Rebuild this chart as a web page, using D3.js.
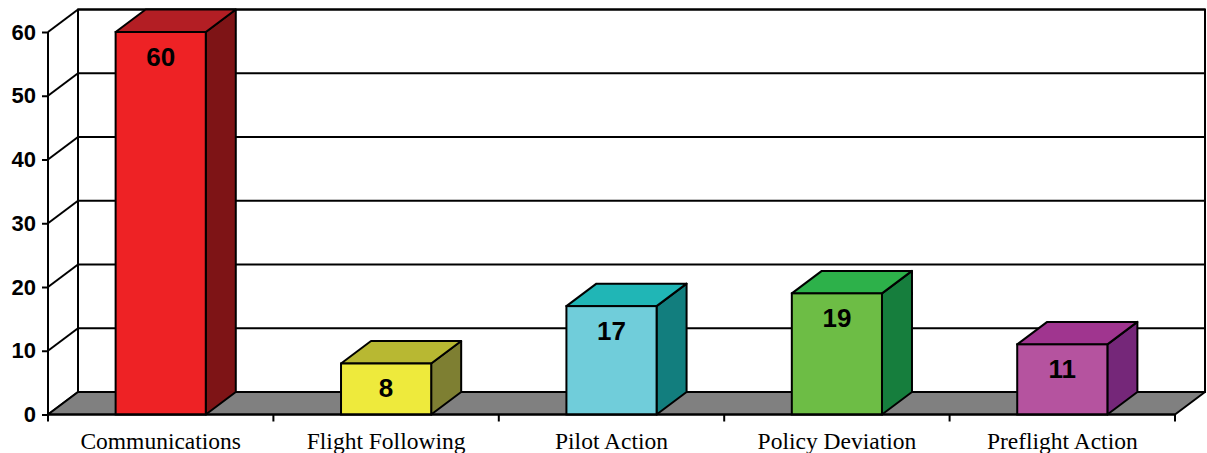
<!DOCTYPE html>
<html>
<head>
<meta charset="utf-8">
<script src="https://cdn.jsdelivr.net/npm/d3@7/dist/d3.min.js"></script>
<style>
  html, body { margin: 0; padding: 0; background: #fff; }
  svg { display: block; }
</style>
</head>
<body>
<svg id="chart" width="1207" height="453"></svg>
<script>
// Incident categories and counts
const categories = ["Communications", "Flight Following", "Pilot Action", "Policy Deviation", "Preflight Action"];
const counts = [60, 8, 17, 19, 11];
const yTicks = [0, 10, 20, 30, 40, 50, 60];

// Face colours per bar: front, side, top
const frontColors = ["#EE2225", "#EEEA3C", "#70CDDA", "#6DBD45", "#B5539F"];
const sideColors  = ["#7E1416", "#7E7F32", "#127E7E", "#167E3D", "#752779"];
const topColors   = ["#B31E24", "#B8B832", "#20B6B6", "#2DB14A", "#A0358F"];

(function () {
const svg = d3.select("#chart");
const plotLeft = 48, plotRight = 1175, plotBottom = 414.5, plotTop = 32;
const dx = 30, dy = -22.5;   // depth offset of the 3D box

const y = d3.scaleLinear().domain([0, 60]).range([plotBottom, plotTop]);
const x = d3.scaleBand().domain(categories).range([plotLeft, plotRight])
  .paddingInner(0.6).paddingOuter(0.3);

const stroke = "#000";
const pts = a => a.map(p => p.join(",")).join(" ");

// Back wall
svg.append("rect")
  .attr("x", plotLeft + dx).attr("y", y(60) + dy)
  .attr("width", plotRight - plotLeft).attr("height", y(0) - y(60))
  .attr("fill", "#fff").attr("stroke", stroke).attr("stroke-width", 2);

// Gridlines on back wall and left wall
const grid = svg.append("g").attr("stroke", stroke).attr("stroke-width", 2);
yTicks.forEach(v => {
  if (v > 0) {
    grid.append("line")
      .attr("x1", plotLeft + dx).attr("x2", plotRight + dx)
      .attr("y1", y(v) + dy).attr("y2", y(v) + dy);
  }
  grid.append("line")
    .attr("x1", plotLeft).attr("y1", y(v))
    .attr("x2", plotLeft + dx).attr("y2", y(v) + dy);
});

// Floor
svg.append("polygon")
  .attr("points", pts([[plotLeft, plotBottom], [plotRight, plotBottom], [plotRight + dx, plotBottom + dy], [plotLeft + dx, plotBottom + dy]]))
  .attr("fill", "#808080").attr("stroke", stroke).attr("stroke-width", 2)
  .attr("stroke-linejoin", "round");

// Bars
const bars = svg.append("g").selectAll("g").data(categories).join("g");
bars.each(function (c, i) {
  const g = d3.select(this);
  const x0 = x(c), x1 = x(c) + x.bandwidth();
  const yt = y(counts[i]), yb = y(0);
  g.append("polygon")
    .attr("points", pts([[x1, yt], [x1 + dx, yt + dy], [x1 + dx, yb + dy], [x1, yb]]))
    .attr("fill", sideColors[i]).attr("stroke", stroke).attr("stroke-width", 2).attr("stroke-linejoin", "round");
  g.append("polygon")
    .attr("points", pts([[x0, yt], [x0 + dx, yt + dy], [x1 + dx, yt + dy], [x1, yt]]))
    .attr("fill", topColors[i]).attr("stroke", stroke).attr("stroke-width", 2).attr("stroke-linejoin", "round");
  g.append("rect")
    .attr("x", x0).attr("y", yt).attr("width", x.bandwidth()).attr("height", yb - yt)
    .attr("fill", frontColors[i]).attr("stroke", stroke).attr("stroke-width", 2);
  g.append("text")
    .attr("x", (x0 + x1) / 2).attr("y", yt + 33.5)
    .attr("text-anchor", "middle")
    .attr("font-family", "Liberation Sans, Arial, sans-serif")
    .attr("font-weight", "bold").attr("font-size", 26)
    .attr("fill", "#000")
    .text(counts[i]);
});

// Y axis
const yAxis = d3.axisLeft(y).tickValues(yTicks).tickSize(6).tickPadding(6);
const yg = svg.append("g").attr("transform", `translate(${plotLeft},0)`).call(yAxis);
yg.select(".domain").attr("stroke", stroke).attr("stroke-width", 2).attr("d", `M0,${plotBottom}V${plotTop}`);
yg.selectAll(".tick line").attr("stroke", stroke).attr("stroke-width", 2);
yg.selectAll(".tick text")
  .attr("font-family", "Liberation Sans, Arial, sans-serif")
  .attr("font-weight", "bold").attr("font-size", 22).attr("fill", "#000");

// X axis with ticks at category boundaries
const xg = svg.append("g").attr("transform", `translate(0,${plotBottom})`);
xg.append("line").attr("x1", plotLeft).attr("x2", plotRight).attr("stroke", stroke).attr("stroke-width", 2);
const step = x.step();
d3.range(categories.length + 1).forEach(k => {
  const xx = plotLeft + k * step;
  xg.append("line").attr("x1", xx).attr("x2", xx).attr("y1", 0).attr("y2", 7)
    .attr("stroke", stroke).attr("stroke-width", 2);
});
xg.selectAll("text.cat").data(categories).join("text")
  .attr("class", "cat")
  .attr("x", c => x(c) + x.bandwidth() / 2)
  .attr("y", 34)
  .attr("text-anchor", "middle")
  .attr("font-family", "Liberation Serif, Times New Roman, serif")
  .attr("font-size", 23.5).attr("fill", "#000")
  .text(c => c);
})();
</script>
</body>
</html>
